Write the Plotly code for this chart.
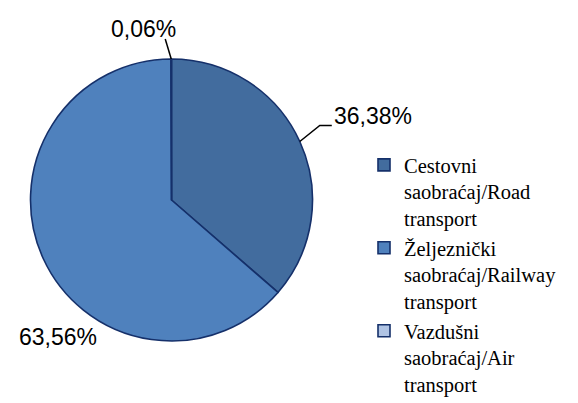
import math
import plotly.graph_objects as go

categories = [
    "Cestovni<br>saobraćaj/Road<br>transport",
    "Željeznički<br>saobraćaj/Railway<br>transport",
    "Vazdušni<br>saobraćaj/Air<br>transport",
]
values = [36.38, 63.56, 0.06]
colors = ["#426C9E", "#4F81BD", "#B0C4E4"]

W, H = 578, 403
CX, CY, R = 163.5, 192.0, 141.0


def px(x):
    return x / W


def py(y):
    return 1 - y / H


fig = go.Figure(
    go.Pie(
        labels=categories,
        values=values,
        sort=False,
        direction="clockwise",
        rotation=0,
        textinfo="none",
        marker=dict(colors=colors, line=dict(color="#15306A", width=1.6)),
        domain=dict(x=[px(CX - R), px(CX + R)], y=[py(CY + R), py(CY - R)]),
        showlegend=True,
    )
)

total = sum(values)
cum = 0
mids = []
for v in values:
    mids.append((cum + v / 2) / total * 360)
    cum += v


def edge(a):
    r = math.radians(a)
    return CX + R * math.sin(r), CY - R * math.cos(r)


fmt = lambda v: ("%.2f%%" % v).replace(".", ",")

# label center offset from slice mid-edge point, and leader path offsets (pixels)
label_cfg = [
    dict(dx=73, dy=-25, line=[(20, -16), (32, -16)]),
    dict(dx=15, dy=78, line=None),
    dict(dx=-28, dy=-30, line=[(-6, -20)]),
]

annotations = []
shapes = []
for v, a, cfg in zip(values, mids, label_cfg):
    ex, ey = edge(a)
    annotations.append(
        dict(
            x=px(ex + cfg["dx"]), y=py(ey + cfg["dy"]), xref="paper", yref="paper",
            text=fmt(v), showarrow=False, xanchor="center", yanchor="middle",
            font=dict(family="Liberation Sans, Arial, sans-serif", size=23, color="black"),
        )
    )
    if cfg["line"]:
        path = "M %f %f" % (px(ex), py(ey))
        for ox, oy in cfg["line"]:
            path += " L %f %f" % (px(ex + ox), py(ey + oy))
        shapes.append(dict(type="path", xref="paper", yref="paper", path=path,
                           line=dict(color="black", width=1.5)))

fig.update_layout(
    width=W, height=H,
    margin=dict(l=0, r=0, t=0, b=0, autoexpand=False),
    paper_bgcolor="white",
    plot_bgcolor="white",
    annotations=annotations,
    shapes=shapes,
    legend=dict(
        x=px(356), y=py(137), xanchor="left", yanchor="top",
        font=dict(family="Liberation Serif, Times New Roman, serif", size=20.5, color="black"),
        valign="top", tracegroupgap=0, itemwidth=30,
        bgcolor="rgba(0,0,0,0)",
    ),
)

fig.write_html("out.html")
